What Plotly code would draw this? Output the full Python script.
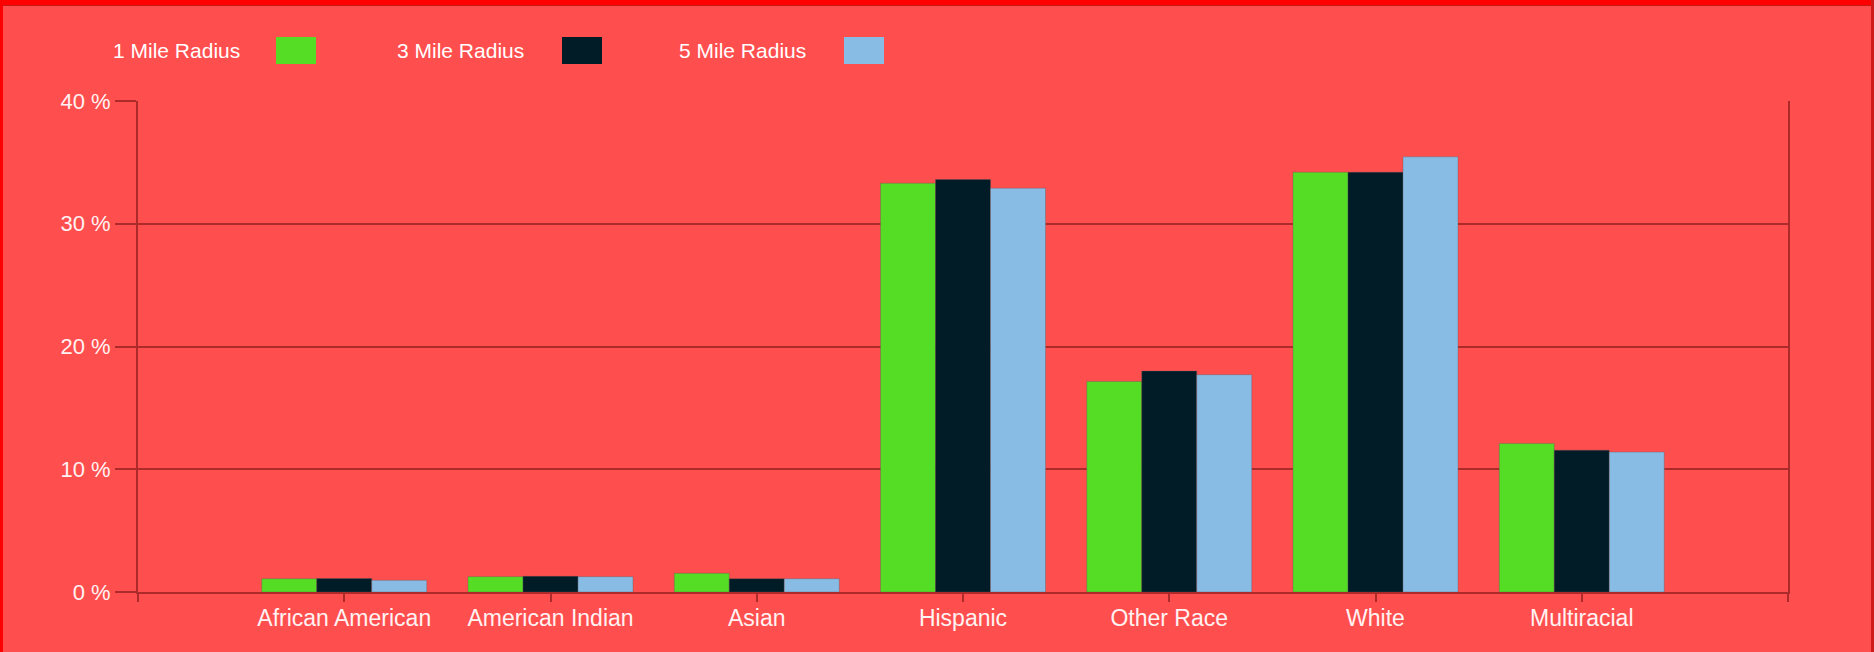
import plotly.graph_objects as go

categories = ["African American", "American Indian", "Asian", "Hispanic",
              "Other Race", "White", "Multiracial"]
series_names = ["1 Mile Radius", "3 Mile Radius", "5 Mile Radius"]
mile1 = [1.08, 1.25, 1.52, 33.3, 17.15, 34.2, 12.1]
mile3 = [1.10, 1.28, 1.08, 33.6, 18.0, 34.2, 11.55]
mile5 = [0.95, 1.25, 1.08, 32.9, 17.7, 35.45, 11.4]
y_ticks = [0, 10, 20, 30, 40]
y_tick_text = ["0 %", "10 %", "20 %", "30 %", "40 %"]

colors = ["#55dd26", "#021c27", "#89bce4"]
BG = "#ff4e4e"
GRID = "rgba(70,0,0,0.45)"

W, H = 1874, 652
ML, MR, MT, MB = 138, 86, 101, 60
PW, PH = W - ML - MR, H - MT - MB


def px2x(px):
    return (px - ML) / PW


def py2y(py):
    return (H - MB - py) / PH


xpos = list(range(1, len(categories) + 1))

fig = go.Figure()
for name, vals, col in zip(series_names, [mile1, mile3, mile5], colors):
    fig.add_trace(go.Bar(
        x=xpos, y=vals, name=name,
        marker=dict(color=col, line=dict(color="rgba(90,90,90,0.35)", width=1)),
        showlegend=False,
    ))

# custom legend (text then swatch)
legend_text_left = [111, 395, 677]
legend_swatch_left = [276, 562, 844]
shapes = []
annotations = []
for name, col, tx, sx in zip(series_names, colors, legend_text_left, legend_swatch_left):
    annotations.append(dict(
        text=name, xref="paper", yref="paper", x=px2x(tx), y=py2y(50),
        xanchor="left", yanchor="middle", showarrow=False,
        font=dict(family="Arial, Liberation Sans, sans-serif", size=21, color="#ffffff"),
    ))
    shapes.append(dict(
        type="rect", xref="paper", yref="paper",
        x0=px2x(sx), x1=px2x(sx + 40), y0=py2y(64), y1=py2y(37),
        fillcolor=col, line=dict(width=0),
    ))

# page border
shapes += [
    dict(type="rect", xref="paper", yref="paper", x0=px2x(0), x1=px2x(W),
         y0=py2y(5), y1=py2y(0), fillcolor="#ff0000", line=dict(width=0), layer="above"),
    dict(type="rect", xref="paper", yref="paper", x0=px2x(0), x1=px2x(W),
         y0=py2y(6), y1=py2y(5), fillcolor="#c81818", line=dict(width=0), layer="above"),
    dict(type="rect", xref="paper", yref="paper", x0=px2x(0), x1=px2x(3),
         y0=py2y(H), y1=py2y(0), fillcolor="#ff0000", line=dict(width=0), layer="above"),
    dict(type="rect", xref="paper", yref="paper", x0=px2x(W - 3), x1=px2x(W),
         y0=py2y(H), y1=py2y(0), fillcolor="#d01a1a", line=dict(width=0), layer="above"),
]

fig.update_layout(
    width=W, height=H,
    margin=dict(l=ML, r=MR, t=MT, b=MB, pad=0),
    paper_bgcolor=BG, plot_bgcolor=BG,
    barmode="group", bargap=0.2, bargroupgap=0,
    shapes=shapes, annotations=annotations,
    font=dict(family="Arial, Liberation Sans, sans-serif", color="#fff2f2"),
)
fig.update_xaxes(
    range=[0, len(categories) + 1],
    tickvals=list(range(0, len(categories) + 2)),
    ticktext=[""] + categories + [""],
    ticks="outside", ticklen=8, tickwidth=2, tickcolor=GRID,
    showline=True, linecolor=GRID, linewidth=2,
    showgrid=False, zeroline=False,
    tickfont=dict(size=23, color="#fff2f2"),
    ticklabelstandoff=-4,
)
fig.update_yaxes(
    range=[0, 40], tickvals=y_ticks, ticktext=y_tick_text,
    ticks="outside", ticklen=21, tickwidth=2, tickcolor=GRID,
    showline=True, linecolor=GRID, linewidth=2, mirror=True,
    showgrid=True, gridcolor=GRID, gridwidth=2, zeroline=False,
    tickfont=dict(size=22, color="#fff2f2"),
    ticklabelstandoff=0,
)

fig.write_html("out.html", config={"displayModeBar": False},
               post_script="document.body.style.margin='0';document.body.style.background='%s';" % BG)
